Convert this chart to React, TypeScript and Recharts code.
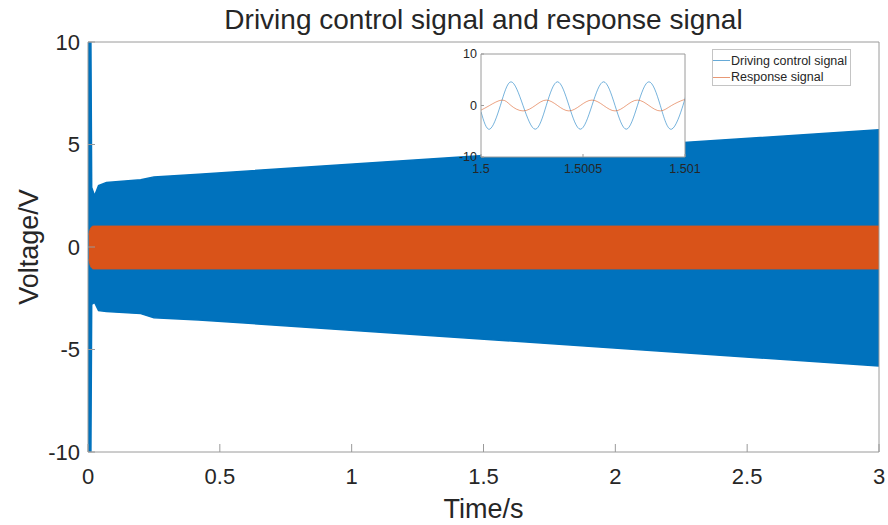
import React from 'react'
import { ComposedChart, LineChart, Area, Line, XAxis, YAxis, CartesianGrid, Legend } from 'recharts'

// main plot: envelope of the driving signal and the response signal
const driveT = [0, 0.011, 0.014, 0.025, 0.04, 0.07, 0.2, 0.25, 0.42, 3]
const driveLow = [-10, -10, -2.8, -2.7, -3.1, -3.15, -3.25, -3.45, -3.56, -5.8]
const driveHigh = [10, 10, 2.9, 2.5, 3.0, 3.15, 3.28, 3.42, 3.55, 5.72]

const respT = [0.003, 0.01, 0.02, 3]
const respLow = [-0.6, -0.95, -1.07, -1.07]
const respHigh = [0.6, 0.92, 1.02, 1.02]

const xTicks = [0, 0.5, 1, 1.5, 2, 2.5, 3]
const yTicks = [-10, -5, 0, 5, 10]

// inset: zoom on 1.5 s .. 1.501 s
const insetDriveT = [
  1.5, 1.500042, 1.500095, 1.500147, 1.500206, 1.500266, 1.50032, 1.500375, 1.500431, 1.500487,
  1.500544, 1.500601, 1.500657, 1.500712, 1.500767, 1.500823, 1.500879, 1.500934, 1.50099, 1.501,
]
const insetDriveV = [
  -1.2, -4.6, 0, 4.6, 0, -4.6, 0, 4.6, 0, -4.6, 0, 4.6, 0, -4.6, 0, 4.6, 0, -4.6, 0, 1.5,
]
const insetRespT = [
  1.5, 1.500042, 1.500103, 1.500147, 1.500206, 1.500266, 1.50032, 1.500375, 1.500431, 1.500487,
  1.500544, 1.500601, 1.500657, 1.500712, 1.500767, 1.500823, 1.500879, 1.500934, 1.50099, 1.501,
]
const insetRespV = [
  -0.9, 0, 1.05, 0, -1.05, 0, 1.05, 0, -1.05, 0, 1.05, 0, -1.05, 0, 1.05, 0, -1.05, 0, 1.05, 1.02,
]
const insetXTicks = [1.5, 1.5005, 1.501]
const insetYTicks = [-10, 0, 10]

const BLUE = '#0072BD'
const ORANGE = '#D95319'
const AXIS = '#9a9a9a'
const TEXT = '#262626'
const FONT = '"Liberation Sans", Arial, Helvetica, sans-serif'

const driveData = driveT.map((t, i) => ({ t, band: [driveLow[i], driveHigh[i]] }))
const respData = respT.map((t, i) => ({ t, band: [respLow[i], respHigh[i]] }))
const insetDrive = insetDriveT.map((t, i) => ({ t, v: insetDriveV[i] }))
const insetResp = insetRespT.map((t, i) => ({ t, v: insetRespV[i] }))

const tickStyle = { fill: TEXT, fontSize: 22, fontFamily: FONT }
const smallTick = { fill: TEXT, fontSize: 12.5, fontFamily: FONT }

const titleLabel = (props: any) => {
  const vb = props.viewBox || { x: 88, y: 41, width: 791, height: 1 }
  return (
    <text x={vb.x + vb.width / 2} y={vb.y + vb.height - 13} textAnchor="middle" fill={TEXT} fontSize={28} fontFamily={FONT}>
      Driving control signal and response signal
    </text>
  )
}

const xLabel = (props: any) => {
  const vb = props.viewBox || { x: 88, y: 452, width: 791, height: 30 }
  return (
    <text x={vb.x + vb.width / 2} y={vb.y + 66} textAnchor="middle" fill={TEXT} fontSize={27} fontFamily={FONT}>
      Time/s
    </text>
  )
}

const yLabel = (props: any) => {
  const vb = props.viewBox || { x: 0, y: 42, width: 88, height: 410 }
  const cx = vb.x + 29
  const cy = vb.y + vb.height / 2
  return (
    <text
      x={cx}
      y={cy}
      transform={`rotate(-90 ${cx} ${cy})`}
      textAnchor="middle"
      dominantBaseline="central"
      fill={TEXT}
      fontSize={27}
      fontFamily={FONT}
    >
      Voltage/V
    </text>
  )
}

const renderLegend = (props: any) => {
  const payload = props.payload || []
  return (
    <div
      style={{
        width: 139,
        height: 37,
        boxSizing: 'border-box',
        border: '1px solid #c4c4c4',
        background: '#fff',
        paddingTop: 2.5,
        fontFamily: FONT,
        fontSize: 12.5,
        color: TEXT,
      }}
    >
      {payload.map((e: any) => (
        <div key={e.value} style={{ display: 'flex', alignItems: 'center', height: 16.6, whiteSpace: 'nowrap' }}>
          <span
            style={{ display: 'inline-block', width: 17, height: 0, borderTop: `1px solid ${e.color}`, opacity: 0.6, marginRight: 1 }}
          />
          <span>{e.value}</span>
        </div>
      ))}
    </div>
  )
}

export default function App() {
  return (
    <div style={{ position: 'absolute', left: 0, top: 0, width: 888, height: 525, background: '#fff' }}>
      <ComposedChart width={888} height={525} margin={{ top: 41, right: 8, bottom: 43, left: 0 }}>
        <XAxis
          dataKey="t"
          type="number"
          domain={[0, 3]}
          ticks={xTicks}
          allowDataOverflow
          height={30}
          tick={tickStyle}
          tickSize={-8}
          tickMargin={24}
          tickLine={{ stroke: AXIS }}
          axisLine={{ stroke: AXIS }}
          label={xLabel}
        />
        <XAxis
          xAxisId="top"
          dataKey="t"
          orientation="top"
          type="number"
          domain={[0, 3]}
          ticks={xTicks}
          allowDataOverflow
          height={1}
          tick={false}
          tickSize={-8}
          tickLine={{ stroke: AXIS }}
          axisLine={{ stroke: AXIS }}
          label={titleLabel}
        />
        <YAxis
          type="number"
          domain={[-10, 10]}
          ticks={yTicks}
          allowDataOverflow
          width={88}
          tick={tickStyle}
          tickSize={-7}
          tickMargin={15}
          tickLine={{ stroke: AXIS }}
          axisLine={{ stroke: AXIS }}
          label={yLabel}
        />
        <YAxis
          yAxisId="right"
          orientation="right"
          type="number"
          domain={[-10, 10]}
          ticks={yTicks}
          allowDataOverflow
          width={1}
          tick={false}
          tickSize={-7}
          tickLine={{ stroke: AXIS }}
          axisLine={{ stroke: AXIS }}
        />
        <Area
          data={driveData}
          dataKey="band"
          type="linear"
          fill={BLUE}
          fillOpacity={1}
          stroke={BLUE}
          strokeWidth={1.5}
          dot={false}
          activeDot={false}
          isAnimationActive={false}
        />
        <Area
          data={respData}
          dataKey="band"
          xAxisId="top"
          yAxisId="right"
          type="monotone"
          fill={ORANGE}
          fillOpacity={1}
          stroke={ORANGE}
          strokeWidth={1}
          dot={false}
          activeDot={false}
          isAnimationActive={false}
        />
      </ComposedChart>

      <div style={{ position: 'absolute', left: 440, top: 45 }}>
        <LineChart width={420} height={140} margin={{ top: 8, right: 174, bottom: 8, left: 0 }}>
          <CartesianGrid horizontal={false} vertical={false} fill="#fff" />
          <XAxis
            dataKey="t"
            type="number"
            domain={[1.5, 1.501]}
            ticks={insetXTicks}
            allowDataOverflow
            height={20}
            tick={smallTick}
            tickSize={-3}
            tickMargin={10}
            tickLine={{ stroke: AXIS }}
            axisLine={{ stroke: AXIS }}
          />
          <XAxis
            xAxisId="top"
            dataKey="t"
            orientation="top"
            type="number"
            domain={[1.5, 1.501]}
            ticks={insetXTicks}
            allowDataOverflow
            height={1}
            tick={false}
            tickSize={-3}
            tickLine={{ stroke: AXIS }}
            axisLine={{ stroke: AXIS }}
          />
          <YAxis
            type="number"
            domain={[-10, 10]}
            ticks={insetYTicks}
            allowDataOverflow
            width={41}
            tick={smallTick}
            tickSize={-3}
            tickMargin={7}
            tickLine={{ stroke: AXIS }}
            axisLine={{ stroke: AXIS }}
          />
          <YAxis
            yAxisId="right"
            orientation="right"
            type="number"
            domain={[-10, 10]}
            ticks={insetYTicks}
            allowDataOverflow
            width={1}
            tick={false}
            tickSize={-3}
            tickLine={{ stroke: AXIS }}
            axisLine={{ stroke: AXIS }}
          />
          <Line
            data={insetDrive}
            dataKey="v"
            name="Driving control signal"
            type="natural"
            stroke={BLUE}
            strokeOpacity={0.6}
            strokeWidth={0.9}
            dot={false}
            activeDot={false}
            isAnimationActive={false}
          />
          <Line
            data={insetResp}
            dataKey="v"
            xAxisId="top"
            yAxisId="right"
            name="Response signal"
            type="natural"
            stroke={ORANGE}
            strokeOpacity={0.6}
            strokeWidth={0.9}
            dot={false}
            activeDot={false}
            isAnimationActive={false}
          />
          <Legend
            content={renderLegend}
            layout="horizontal"
            verticalAlign="middle"
            align="center"
            wrapperStyle={{ left: 272, top: 4, width: 139, height: 37 }}
          />
        </LineChart>
      </div>
    </div>
  )
}
